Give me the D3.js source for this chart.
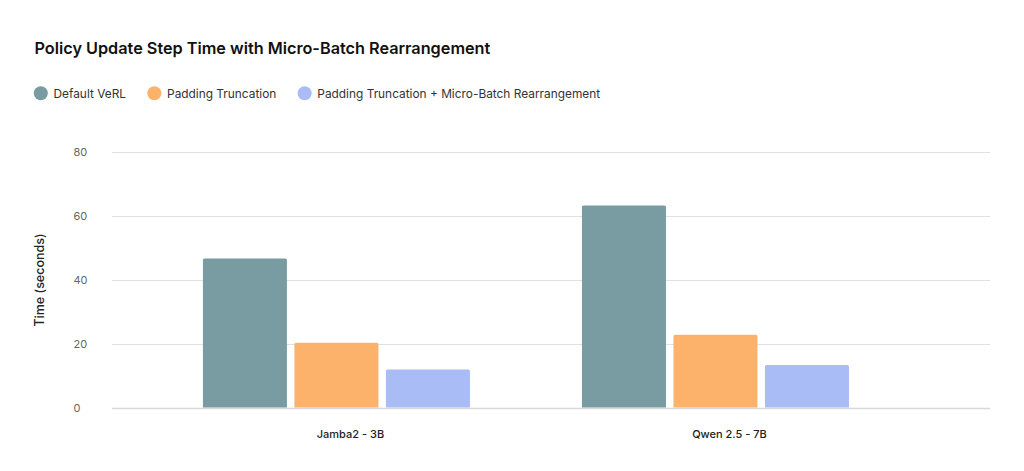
<!DOCTYPE html>
<html>
<head>
<meta charset="utf-8">
<script src="https://cdn.jsdelivr.net/npm/d3@7"></script>
<style>
  html, body { margin: 0; padding: 0; background: #fff; }
  svg { display: block; font-family: Inter, "Noto Sans", sans-serif; }
</style>
</head>
<body>
<svg id="chart" width="1024" height="471"></svg>
<script>
const title = "Policy Update Step Time with Micro-Batch Rearrangement";
const categories = ["Jamba2 - 3B", "Qwen 2.5 - 7B"];
const seriesNames = ["Default VeRL", "Padding Truncation", "Padding Truncation + Micro-Batch Rearrangement"];
const seriesColors = ["#789ca2", "#fdb26b", "#a9bcf5"];
const defaultVerl = [46.6, 63.1];
const paddingTrunc = [20.2, 22.7];
const paddingMicro = [11.9, 13.3];
const yTicks = [0, 20, 40, 60, 80];
const yTitle = "Time (seconds)";

const seriesValues = [defaultVerl, paddingTrunc, paddingMicro];

const svg = d3.select("#chart");
const plot = { left: 112, right: 990, top: 151.5, bottom: 407.5 };

// Title
const t = svg.append("text")
  .attr("x", 34.5).attr("y", 54.3)
  .attr("font-size", 17).attr("font-weight", 600).attr("fill", "#111")
  .text(title);
const tw = t.node().getComputedTextLength();
t.attr("font-size", 17 * 456 / tw);

// Legend: size font so the longest entry matches the reference width
const probe = svg.append("text").attr("font-size", 13).text(seriesNames[2]);
const legendSize = 13 * 283 / probe.node().getComputedTextLength();
probe.remove();
let lx = 34;
seriesNames.forEach((name, i) => {
  const g = svg.append("g");
  g.append("circle").attr("cx", lx + 6.8).attr("cy", 93.3).attr("r", 7).attr("fill", seriesColors[i]);
  const txt = g.append("text").attr("x", lx + 19.5).attr("y", 97.8)
    .attr("font-size", legendSize).attr("fill", "#333").text(name);
  lx = lx + 19.5 + txt.node().getComputedTextLength() + 21.5;
});

// Scales
const y = d3.scaleLinear().domain([0, 80]).range([plot.bottom, plot.top]);
const x0 = d3.scaleBand().domain(categories).range([plot.left, plot.right])
  .paddingInner(0.2955).paddingOuter(0.306).align(0.392);
const x1 = d3.scaleBand().domain(d3.range(seriesNames.length)).range([0, x0.bandwidth()]).paddingInner(0.082);

// Gridlines
svg.append("g").selectAll("line").data(yTicks).join("line")
  .attr("x1", plot.left).attr("x2", plot.right)
  .attr("y1", d => Math.round(y(d)) + 0.5).attr("y2", d => Math.round(y(d)) + 0.5)
  .attr("stroke", d => d === 0 ? "#d8d8d8" : "#e0e0e0").attr("stroke-width", d => d === 0 ? 1.5 : 1);

// Y tick labels
const yAxis = d3.axisLeft(y).tickValues(yTicks).tickSize(0).tickPadding(0);
const ya = svg.append("g").attr("transform", `translate(73.5,0)`).call(yAxis);
ya.select(".domain").remove();
ya.selectAll("text").attr("text-anchor", "start").attr("font-family", "Inter, sans-serif")
  .attr("font-size", 11).attr("fill", "#666");

// Y title
svg.append("text")
  .attr("transform", `translate(43.5,280) rotate(-90)`)
  .attr("text-anchor", "middle").attr("font-size", 12.5).attr("font-weight", 500).attr("fill", "#222")
  .text(yTitle);

// Bars
const barData = [];
categories.forEach((c, ci) => {
  seriesValues.forEach((vals, si) => barData.push({ c, si, v: vals[ci] }));
});
const r = 1.5;
svg.append("g").selectAll("path").data(barData).join("path")
  .attr("fill", d => seriesColors[d.si])
  .attr("d", d => {
    const bx = x0(d.c) + x1(d.si), bw = x1.bandwidth();
    const top = y(d.v), bot = y(0);
    return `M${bx},${bot}V${top + r}Q${bx},${top} ${bx + r},${top}H${bx + bw - r}Q${bx + bw},${top} ${bx + bw},${top + r}V${bot}Z`;
  });

// X labels
const xAxis = d3.axisBottom(x0).tickSize(0).tickPadding(0);
const xa = svg.append("g").attr("transform", `translate(14,437.5)`).call(xAxis);
xa.select(".domain").remove();
xa.selectAll("text").attr("dy", 0).attr("font-family", "Inter, sans-serif")
  .attr("font-size", 11).attr("font-weight", 500).attr("fill", "#222");
</script>
</body>
</html>
